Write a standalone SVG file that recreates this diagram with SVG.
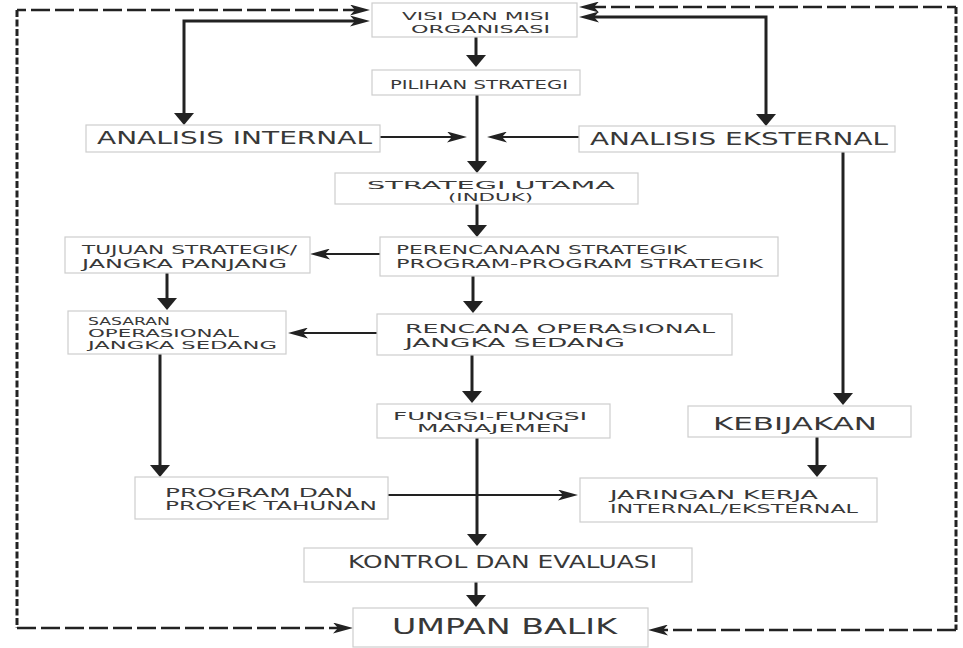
<svg xmlns="http://www.w3.org/2000/svg" width="963" height="648" viewBox="0 0 963 648">
<style>
.box{fill:#fff;stroke:#cdcdcd;stroke-width:1.2}
.t{font-family:"DejaVu Sans","Liberation Sans",sans-serif;fill:#383838}
.thick{fill:none;stroke:#222;stroke-width:3}
.thin{fill:none;stroke:#222;stroke-width:2}
.dh{fill:none;stroke:#222;stroke-width:2.6;stroke-dasharray:19 5}
.dv{fill:none;stroke:#222;stroke-width:3;stroke-dasharray:7 2.5}
</style>
<defs>
<marker id="big" markerUnits="userSpaceOnUse" viewBox="0 0 12 20" markerWidth="12" markerHeight="20" refX="6" refY="10" orient="auto-start-reverse">
<path d="M0,0 L12,10 L0,20 z" style="fill:#222;stroke:none"/>
</marker>
<marker id="slim" markerUnits="userSpaceOnUse" viewBox="0 0 20 11" markerWidth="20" markerHeight="11" refX="12" refY="5.5" orient="auto-start-reverse">
<path d="M0,0 L20,5.5 L0,11 L5,5.5 z" style="fill:#222;stroke:none"/>
</marker>
</defs>

<g id="connectors">
<path class="thick" d="M362,21 H184 V119" marker-start="url(#slim)" marker-end="url(#big)"/>
<path class="thick" d="M587,17 H766 V120" marker-start="url(#slim)" marker-end="url(#big)"/>
<path class="thick" d="M476,37 V61" marker-end="url(#big)"/>
<path class="thick" d="M477,95 V167" marker-end="url(#big)"/>
<path class="thin" d="M380,137 H459" marker-end="url(#slim)"/>
<path class="thin" d="M579,137 H495" marker-end="url(#slim)"/>
<path class="thick" d="M477,204 V231" marker-end="url(#big)"/>
<path class="thin" d="M380,254 H318" marker-end="url(#slim)"/>
<path class="thick" d="M167,273 V304" marker-end="url(#big)"/>
<path class="thick" d="M473,276 V307" marker-end="url(#big)"/>
<path class="thin" d="M377,333 H296" marker-end="url(#slim)"/>
<path class="thick" d="M472,355 V397" marker-end="url(#big)"/>
<path class="thick" d="M160,354 V471" marker-end="url(#big)"/>
<path class="thick" d="M843,152 V399" marker-end="url(#big)"/>
<path class="thick" d="M817,437 V471" marker-end="url(#big)"/>
<path class="thin" d="M388,495 H570" marker-end="url(#slim)"/>
<path class="thick" d="M477,438 V540" marker-end="url(#big)"/>
<path class="thick" d="M476,582 V601" marker-end="url(#big)"/>
<path class="dh" d="M362,10 H17" marker-start="url(#slim)"/>
<path class="dv" d="M17,10 V628"/>
<path class="dh" d="M17,628 H345" marker-end="url(#slim)"/>
<path class="dh" d="M587,7 H956" marker-start="url(#slim)"/>
<path class="dv" d="M956,7 V630"/>
<path class="dh" d="M956,630 H656" marker-end="url(#slim)"/>
</g>

<g id="visi">
<rect class="box" x="372" y="3" width="205" height="34"/>
<text class="t" x="402" y="20" font-size="11" textLength="148" lengthAdjust="spacingAndGlyphs">VISI DAN MISI</text>
<text class="t" x="411" y="33" font-size="11" textLength="139" lengthAdjust="spacingAndGlyphs">ORGANISASI</text>
</g>
<g id="pilihan">
<rect class="box" x="372" y="70" width="208" height="25"/>
<text class="t" x="390" y="89" font-size="13" textLength="178" lengthAdjust="spacingAndGlyphs">PILIHAN STRATEGI</text>
</g>
<g id="analisis-internal">
<rect class="box" x="86" y="125" width="294" height="27"/>
<text class="t" x="97" y="144" font-size="17" textLength="275" lengthAdjust="spacingAndGlyphs">ANALISIS INTERNAL</text>
</g>
<g id="analisis-eksternal">
<rect class="box" x="579" y="126" width="316" height="26"/>
<text class="t" x="590" y="145" font-size="17" textLength="298" lengthAdjust="spacingAndGlyphs">ANALISIS EKSTERNAL</text>
</g>
<g id="strategi-utama">
<rect class="box" x="335" y="173" width="303" height="31"/>
<text class="t" x="367" y="189" font-size="11" textLength="248" lengthAdjust="spacingAndGlyphs">STRATEGI UTAMA</text>
<text class="t" x="448" y="201" font-size="11" textLength="85" lengthAdjust="spacingAndGlyphs">(INDUK)</text>
</g>
<g id="perencanaan">
<rect class="box" x="380" y="237" width="398" height="39"/>
<text class="t" x="396" y="254" font-size="13" textLength="291" lengthAdjust="spacingAndGlyphs">PERENCANAAN STRATEGIK</text>
<text class="t" x="396" y="268" font-size="13" textLength="367" lengthAdjust="spacingAndGlyphs">PROGRAM-PROGRAM STRATEGIK</text>
</g>
<g id="tujuan">
<rect class="box" x="65" y="237" width="245" height="36"/>
<text class="t" x="82" y="254" font-size="13" textLength="215" lengthAdjust="spacingAndGlyphs">TUJUAN STRATEGIK/</text>
<text class="t" x="82" y="268" font-size="13" textLength="205" lengthAdjust="spacingAndGlyphs">JANGKA PANJANG</text>
</g>
<g id="sasaran">
<rect class="box" x="68" y="311" width="218" height="43"/>
<text class="t" x="88" y="325" font-size="11" textLength="82" lengthAdjust="spacingAndGlyphs">SASARAN</text>
<text class="t" x="88" y="337" font-size="11" textLength="151" lengthAdjust="spacingAndGlyphs">OPERASIONAL</text>
<text class="t" x="88" y="349" font-size="11" textLength="189" lengthAdjust="spacingAndGlyphs">JANGKA SEDANG</text>
</g>
<g id="rencana">
<rect class="box" x="377" y="314" width="355" height="41"/>
<text class="t" x="405" y="333" font-size="13" textLength="310" lengthAdjust="spacingAndGlyphs">RENCANA OPERASIONAL</text>
<text class="t" x="405" y="347" font-size="13" textLength="220" lengthAdjust="spacingAndGlyphs">JANGKA SEDANG</text>
</g>
<g id="fungsi">
<rect class="box" x="377" y="404" width="233" height="34"/>
<text class="t" x="393" y="420" font-size="11" textLength="194" lengthAdjust="spacingAndGlyphs">FUNGSI-FUNGSI</text>
<text class="t" x="417" y="432" font-size="11" textLength="153" lengthAdjust="spacingAndGlyphs">MANAJEMEN</text>
</g>
<g id="kebijakan">
<rect class="box" x="688" y="406" width="223" height="31"/>
<text class="t" x="713" y="430" font-size="18" textLength="164" lengthAdjust="spacingAndGlyphs">KEBIJAKAN</text>
</g>
<g id="program">
<rect class="box" x="135" y="477" width="253" height="42"/>
<text class="t" x="165" y="497" font-size="12" textLength="188" lengthAdjust="spacingAndGlyphs">PROGRAM DAN</text>
<text class="t" x="165" y="510" font-size="12" textLength="212" lengthAdjust="spacingAndGlyphs">PROYEK TAHUNAN</text>
</g>
<g id="jaringan">
<rect class="box" x="580" y="478" width="297" height="44"/>
<text class="t" x="610" y="499" font-size="13" textLength="208" lengthAdjust="spacingAndGlyphs">JARINGAN KERJA</text>
<text class="t" x="610" y="513" font-size="13" textLength="248" lengthAdjust="spacingAndGlyphs">INTERNAL/EKSTERNAL</text>
</g>
<g id="kontrol">
<rect class="box" x="304" y="548" width="388" height="34"/>
<text class="t" x="348" y="568" font-size="17" textLength="309" lengthAdjust="spacingAndGlyphs">KONTROL DAN EVALUASI</text>
</g>
<g id="umpan">
<rect class="box" x="353" y="608" width="295" height="39"/>
<text class="t" x="392" y="634" font-size="22" textLength="225" lengthAdjust="spacingAndGlyphs">UMPAN BALIK</text>
</g>
</svg>
